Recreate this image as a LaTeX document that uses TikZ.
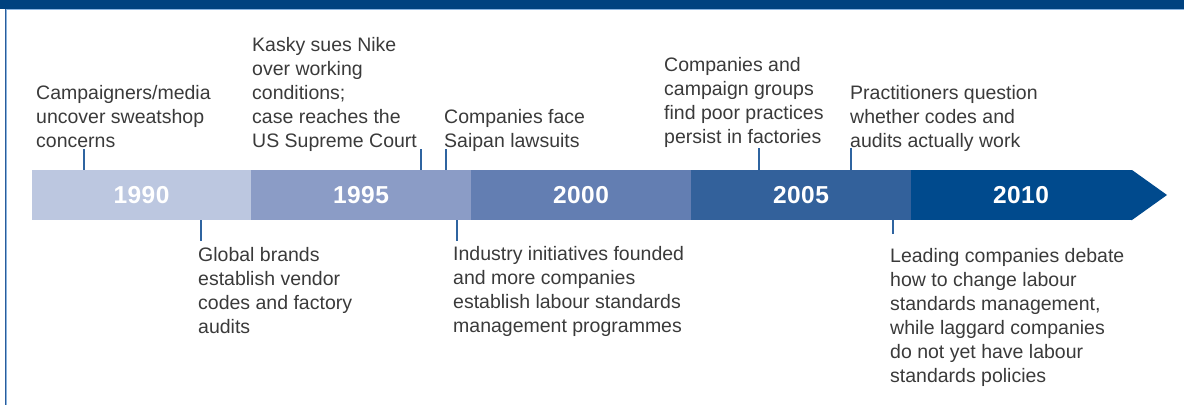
\documentclass[tikz,border=0pt]{standalone}
\usepackage{fontspec}
\setmainfont{Liberation Sans}
\newfontfamily\yearfont{Liberation Sans}[LetterSpace=2]
\definecolor{bandblue}{HTML}{00427F}
\definecolor{rulelight}{HTML}{8AB4E0}
\definecolor{frameblue}{HTML}{2A5C9A}
\definecolor{cA}{HTML}{BCC7E0}
\definecolor{cB}{HTML}{8B9CC6}
\definecolor{cC}{HTML}{637EB2}
\definecolor{cD}{HTML}{33619B}
\definecolor{cE}{HTML}{004A8D}
\definecolor{tickblue}{HTML}{2F64A0}
\definecolor{bodytext}{HTML}{3A3A3A}
\begin{document}
\begin{tikzpicture}[x=1pt,y=-1pt,
  segment/.style={minimum width=220pt,minimum height=50pt,inner sep=0pt,
    outer sep=0pt,text=white,font=\yearfont\bfseries\fontsize{24.5}{24.5}\selectfont},
  event/.style={anchor=north west,inner sep=0pt,align=left,text=bodytext,
    font=\fontsize{19.5}{24}\selectfont},
  tick/.style={draw=tickblue,line width=1.3pt}]
\useasboundingbox (0,0) rectangle (1184,405);
% header band and frame
\fill[bandblue] (0,0) rectangle (1184,8.8);
\draw[rulelight,line width=1.2pt] (5,9.8) -- (1184,9.8);
\draw[frameblue,line width=1.2pt] (5.6,9.2) -- (5.6,405);
\draw[rulelight,line width=0.8pt] (6.8,10.4) -- (6.8,405);
% timeline bar
\node[segment,fill=cA] (s1990) at (141.5,195) {1990};
\node[segment,fill=cB] (s1995) at (361,195) {1995};
\node[segment,fill=cC] (s2000) at (581,195) {2000};
\node[segment,fill=cD] (s2005) at (801,195) {2005};
\fill[cE] (911,170) rectangle (1132,220);
\fill[cE] (1131,170) -- (1132,170) -- (1167,195) -- (1132,220) -- (1131,220) -- cycle;
\node[segment,fill=none,minimum width=0pt] (s2010) at (1021,195) {2010};
% events above the bar
\node[event] (e1) at (36,85) {Campaigners/media\\uncover sweatshop\\concerns};
\node[event] (e2) at (252,37) {Kasky sues Nike\\over working\\conditions;\\case reaches the\\US Supreme Court};
\node[event] (e3) at (444,109) {Companies face\\Saipan lawsuits};
\node[event] (e4) at (664,57) {Companies and\\campaign groups\\find poor practices\\persist in factories};
\node[event] (e5) at (850,85) {Practitioners question\\whether codes and\\audits actually work};
% events below the bar
\node[event] (e6) at (198,247) {Global brands\\establish vendor\\codes and factory\\audits};
\node[event] (e7) at (453,246) {Industry initiatives founded\\and more companies\\establish labour standards\\management programmes};
\node[event] (e8) at (890,248) {Leading companies debate\\how to change labour\\standards management,\\while laggard companies\\do not yet have labour\\standards policies};
% connector ends
\coordinate (k1) at (84,149);
\coordinate (k2) at (421,149);
\coordinate (k3) at (446,149);
\coordinate (k4) at (759,148);
\coordinate (k5) at (851,148);
\coordinate (k6) at (201,241);
\coordinate (k7) at (457,241);
\coordinate (k8) at (893,234);
\draw[tick] (k1) -- (k1 |- s1990.north);
\draw[tick] (k2) -- (k2 |- s1995.north);
\draw[tick] (k3) -- (k3 |- s1995.north);
\draw[tick] (k4) -- (k4 |- s2005.north);
\draw[tick] (k5) -- (k5 |- s2005.north);
\draw[tick] (k6) -- (k6 |- s1990.south);
\draw[tick] (k7) -- (k7 |- s2000.south);
\draw[tick] (k8) -- (k8 |- s2005.south);
\end{tikzpicture}
\end{document}
